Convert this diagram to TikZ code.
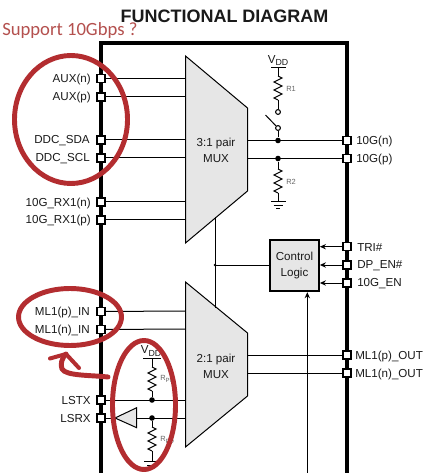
\documentclass[tikz,border=0pt]{standalone}
\usepackage{fontspec}
\setmainfont{Liberation Sans}
\newfontfamily\notefont{Carlito}
\usetikzlibrary{arrows.meta}
\definecolor{inkc}{HTML}{1A1A1A}
\definecolor{muxgray}{HTML}{E6E6E6}
\definecolor{markred}{HTML}{B32D30}
\definecolor{notered}{HTML}{B4504E}
\tikzset{
  px/.style={x=0.75pt,y=-0.75pt},
  pin/.style={draw=black,fill=white,line width=0.8pt,minimum size=6pt,inner sep=0pt,rectangle},
  lbl/.style={inner sep=0pt,text=inkc,font=\fontsize{8.7}{10.4}\selectfont},
  lbll/.style={lbl,anchor=east},
  lblr/.style={lbl,anchor=west},
  wire/.style={line width=0.75pt,draw=black},
  frameline/.style={line width=3.4pt,draw=black},
  muxshape/.style={draw=black,fill=muxgray,line width=0.75pt,line join=miter},
  solder/.style={circle,fill=black,inner sep=0pt,minimum size=4.2pt},
  openpt/.style={circle,draw=black,fill=white,line width=0.8pt,inner sep=0pt,minimum size=3.6pt},
  tiny/.style={inner sep=0pt,text=black!60,font=\fontsize{5.6}{6}\selectfont,anchor=west},
  supply/.style={inner sep=0pt,text=inkc,font=\fontsize{8.7}{10}\selectfont},
  redmark/.style={draw=markred,line width=3.7pt,line cap=round,line join=round},
  tip/.style={-{Stealth[length=4.5pt,width=4pt]}}
}
\newcommand{\zigzag}[3]{% x, ytop, ybottom
  \draw[wire] (#1,#2) -- ++(4,2) -- ++(-8,4) -- ++(8,4) -- ++(-8,4) -- ++(8,4) -- ++(-8,4) -- (#1,#3);}
\begin{document}
\begin{tikzpicture}[px]
\useasboundingbox (0,0) rectangle (430,473);
\fill[white] (0,0) rectangle (430,473);

% frame
\coordinate (fbl) at (101,473);
\coordinate (ftl) at (101,43);
\coordinate (ftr) at (347,43);
\coordinate (fbr) at (347,473);
\draw[frameline,line join=miter] (fbl) -- (ftl) -- (ftr) -- (fbr);

\node[inner sep=0pt,text=inkc,font=\fontsize{13.5}{15}\selectfont\bfseries] (title) at (224.5,16) {FUNCTIONAL DIAGRAM};
\node[inner sep=0pt,anchor=base west,text=notered,font=\notefont\fontsize{14}{16}\selectfont] (note) at (2,36) {Support 10Gbps ?};

% multiplexers
\draw[muxshape] (185.5,56) coordinate (ma) -- (247.5,108) -- (247.5,191) -- (185.5,243) -- cycle;
\draw[muxshape] (185.5,282) coordinate (mb) -- (247.5,333) -- (247.5,396) -- (185.5,447) -- cycle;
\node[lbl,align=center] (mtxt) at (216,150.5) {3:1 pair\\[1.6pt]MUX};
\node[lbl,align=center] (mtxtb) at (216,366) {2:1 pair\\[1.6pt]MUX};

% mux edge coordinates
\foreach \n/\y in {auxn/78.5,auxp/97,sda/140,scl/158,rxn/202,rxp/220,mlp/311,mln/329,lsrxm/418,lstxm/400}
  \coordinate (m\n) at (185.5,\y);
\foreach \n/\y in {gn/140.5,gp/158.5,op/355,on/373}
  \coordinate (r\n) at (247.5,\y);

% left pins
\foreach \n/\y/\t/\dx in {auxn/78.5/AUX(n)/91,auxp/97/AUX(p)/91,sda/140/DDC\_SDA/90,scl/158/DDC\_SCL/90,rxn/202/10G\_RX1(n)/91,rxp/220/10G\_RX1(p)/91,mlp/311.5/ML1(p)\_IN/90,mln/329.5/ML1(n)\_IN/90,lstx/400/LSTX/91,lsrx/418/LSRX/91}{
  \node[lbll] (t\n) at (\dx,\y+1) {\t};
  \node[pin] (p\n) at (101,\y) {};
}
\foreach \n in {auxn,auxp,sda,scl,rxn,rxp,mlp,mln}
  \draw[wire] (p\n) -- (m\n-|ma);

% right pins
\foreach \n/\y/\t/\dx in {gn/140.5/10G(n)/356,gp/158.5/10G(p)/356,tri/246.7/TRI\#/357,dpen/265/DP\_EN\#/357,gen/283/10G\_EN/357,mop/355/ML1(p)\_OUT/355,mon/373/ML1(n)\_OUT/355}{
  \node[lblr] (t\n) at (\dx,\y+1) {\t};
  \node[pin] (p\n) at (347,\y) {};
}
\draw[wire] (rgn) -- (pgn);
\draw[wire] (rgp) -- (pgp);
\draw[wire] (rop) -- (pmop);
\draw[wire] (ron) -- (pmon);

% control logic
\node[draw=black,fill=muxgray,line width=1.6pt,minimum width=36.5pt,minimum height=38.5pt,inner sep=0pt,align=center,lbl] (ctrl) at (294.5,265.5) {Control\\[1.6pt]Logic};
\foreach \n in {tri,dpen,gen}
  \draw[wire,tip] (p\n) -- (p\n-|ctrl.east);
\coordinate (bus) at (215,265);
\coordinate (busa) at (215,217);
\coordinate (busb) at (215,308);
\draw[wire] (busa) -- (busb);
\draw[wire] (ctrl.west|-bus) -- (bus);
\fill (bus) circle (1pt);
\coordinate (enin) at (307.3,473);
\draw[wire,tip] (enin) -- (enin|-ctrl.south);

% pull-up and switch
\coordinate (vb) at (278,68);
\node[supply] (vdd) at (278,60.5) {V\raisebox{-1.6pt}{\fontsize{6.6}{7}\selectfont DD}};
\draw[wire] (271,68) -- (286,68);
\draw[wire] (vb) -- (278,76);
\zigzag{278}{76}{100}
\node[openpt] (s1) at (278,112) {};
\draw[wire] (278,100) -- (s1);
\node[openpt] (s2) at (278,128) {};
\draw[wire] (s2) -- (265.5,115);
\node[solder] (dn) at (278,140.5) {};
\node[solder] (dp) at (278,158.5) {};
\draw[wire] (s2) -- (dn);
\node[tiny] (r1) at (286,89) {R1};
\node[tiny] (r2) at (286,182) {R2};
\draw[wire] (dp) -- (278,169);
\zigzag{278}{169}{193}
\draw[wire] (278,193) -- (278,202);
\draw[wire] (271,202) -- (286,202) (273.5,205.5) -- (282.5,205.5) (276,208.5) -- (280,208.5);

% level shift section
\node[supply] (vddb) at (151,351) {V\raisebox{-1.6pt}{\fontsize{6.6}{7}\selectfont DD}};
\draw[wire] (143,358) -- (161,358);
\draw[wire] (152,358) -- (152,367);
\zigzag{152}{367}{391}
\node[solder] (dtx) at (152,400) {};
\node[solder] (drx) at (152,418) {};
\draw[wire] (152,391) -- (dtx);
\draw[wire] (plstx) -- (mlstxm-|ma);
\draw[muxshape] (115,418) coordinate (tiptri) -- (136.7,407.7) -- (136.7,427.7) -- cycle;
\coordinate (tribase) at (136.7,418);
\draw[wire] (plsrx) -- (tiptri);
\draw[wire] (tribase) -- (mlsrxm-|ma);
\draw[wire] (drx) -- (152,427);
\zigzag{152}{427}{451}
\draw[wire] (152,451) -- (152,461.5);
\draw[wire] (144,461.5) -- (160,461.5) (147,465) -- (157,465) (150,468) -- (154,468);
\node[tiny] (rpu) at (160,379) {R\raisebox{-1pt}{\fontsize{4.5}{5}\selectfont PU}};
\node[tiny] (rpd) at (160,440) {R\raisebox{-1pt}{\fontsize{4.5}{5}\selectfont PD}};

% red hand-drawn marks
\draw[redmark] (71,119.5) ellipse [x radius=56.5,y radius=64];
\draw[redmark] (70,317) ellipse [x radius=51.5,y radius=28.5];
\draw[redmark] (144,405) ellipse [x radius=31.5,y radius=64.5];
\coordinate (aend) at (108,377);
\coordinate (ahead) at (66,354);
\draw[redmark] (aend) .. controls (90,375) and (66,376) .. (62,369) .. controls (60,364) and (62,358) .. (ahead);
\draw[redmark,line width=3pt] (50,358.5) -- (ahead) -- (79,368);
\end{tikzpicture}
\end{document}
